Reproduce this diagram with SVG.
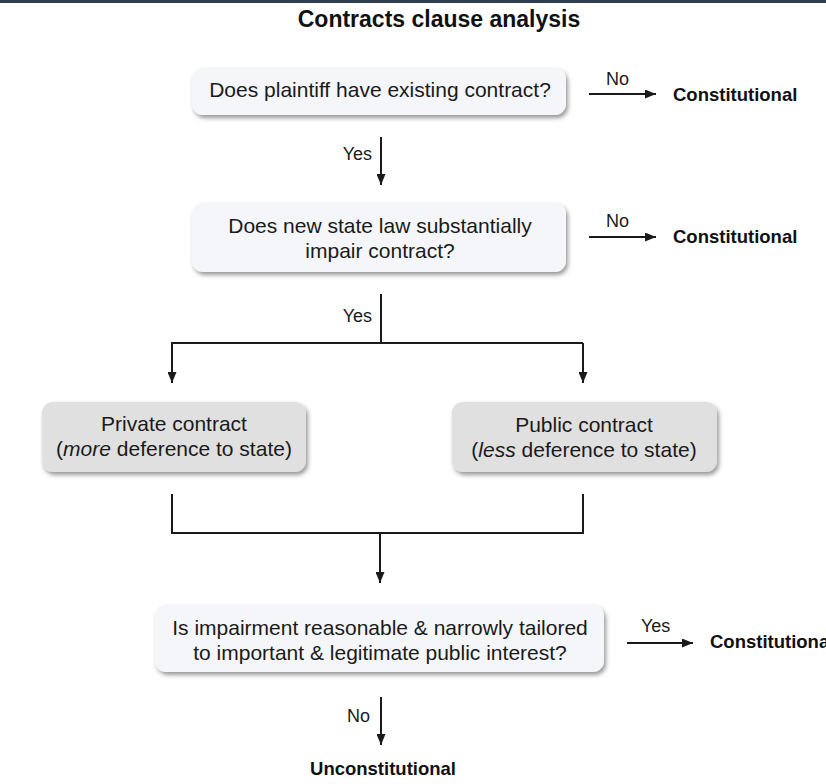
<svg xmlns="http://www.w3.org/2000/svg" width="826" height="784" viewBox="0 0 826 784">
<style>
.t{font-family:"Liberation Sans",Arial,sans-serif;font-size:21px;fill:#1a1a1a;text-anchor:middle}
.l{font-family:"Liberation Sans",Arial,sans-serif;font-size:18px;fill:#1a1a1a}
.b{font-family:"Liberation Sans",Arial,sans-serif;font-size:18.5px;font-weight:bold;fill:#111}
.q{fill:#f4f6f9}
.g{fill:#e0e0e0}
.c{stroke:#1a1a1a;stroke-width:2;fill:none}
.a{marker-end:url(#ah)}
</style>
<defs>
<marker id="ah" markerUnits="userSpaceOnUse" markerWidth="11" markerHeight="9" refX="11" refY="4.5" orient="auto">
<path d="M0,0 L11,4.5 L0,9 z" fill="#1a1a1a"/>
</marker>
<filter id="sh" x="-10%" y="-20%" width="125%" height="150%">
<feDropShadow dx="2" dy="3" stdDeviation="2" flood-color="#444" flood-opacity="0.55"/>
</filter>
</defs>
<rect width="826" height="784" fill="#fff"/>
<rect width="826" height="3" fill="#2f3e4e"/>
<text x="439" y="27" font-family="Liberation Sans,Arial,sans-serif" font-size="23" font-weight="bold" text-anchor="middle" fill="#111">Contracts clause analysis</text>

<g id="q1"><rect class="q" x="192" y="68" width="374" height="47" rx="11" filter="url(#sh)"/><text class="t" x="380" y="97">Does plaintiff have existing contract?</text></g>
<g id="q2"><rect class="q" x="192" y="203" width="374" height="69" rx="11" filter="url(#sh)"/><text class="t" x="380" y="233">Does new state law substantially</text><text class="t" x="380" y="258">impair contract?</text></g>
<g id="private"><rect class="g" x="42" y="402" width="264" height="70" rx="11" filter="url(#sh)"/><text class="t" x="174" y="431">Private contract</text><text class="t" x="174" y="456">(<tspan font-style="italic">more</tspan> deference to state)</text></g>
<g id="public"><rect class="g" x="452" y="402" width="265" height="70" rx="11" filter="url(#sh)"/><text class="t" x="584" y="432">Public contract</text><text class="t" x="584" y="457">(<tspan font-style="italic">less</tspan> deference to state)</text></g>
<g id="q3"><rect class="q" x="155" y="605" width="449" height="67" rx="11" filter="url(#sh)"/><text class="t" x="380" y="635">Is impairment reasonable &amp; narrowly tailored</text><text class="t" x="380" y="660">to important &amp; legitimate public interest?</text></g>
<g id="out1"><text class="b" x="673" y="101">Constitutional</text></g>
<g id="out2"><text class="b" x="673" y="243">Constitutional</text></g>
<g id="out3"><text class="b" x="710" y="648">Constitutional</text></g>
<g id="out4"><text class="b" x="383" y="775" text-anchor="middle">Unconstitutional</text></g>

<g id="connectors">
<line class="c a" x1="589" y1="94" x2="656" y2="94"/>
<text class="l" x="606" y="85">No</text>
<line class="c a" x1="381" y1="137" x2="381" y2="185"/>
<text class="l" x="372" y="160" text-anchor="end">Yes</text>
<line class="c a" x1="589" y1="237" x2="656" y2="237"/>
<text class="l" x="606" y="227">No</text>
<line class="c" x1="381" y1="294" x2="381" y2="343"/>
<text class="l" x="372" y="322" text-anchor="end">Yes</text>
<polyline class="c" points="172,383 172,343 583,343"/>
<line class="c a" x1="172" y1="343" x2="172" y2="383"/>
<line class="c a" x1="583" y1="343" x2="583" y2="383"/>
<polyline class="c" points="172,494 172,533 583,533 583,494"/>
<line class="c a" x1="380" y1="533" x2="380" y2="583"/>
<line class="c a" x1="627" y1="643" x2="693" y2="643"/>
<text class="l" x="641" y="632">Yes</text>
<line class="c a" x1="381" y1="697" x2="381" y2="745"/>
<text class="l" x="370" y="722" text-anchor="end">No</text>
</g>
</svg>
